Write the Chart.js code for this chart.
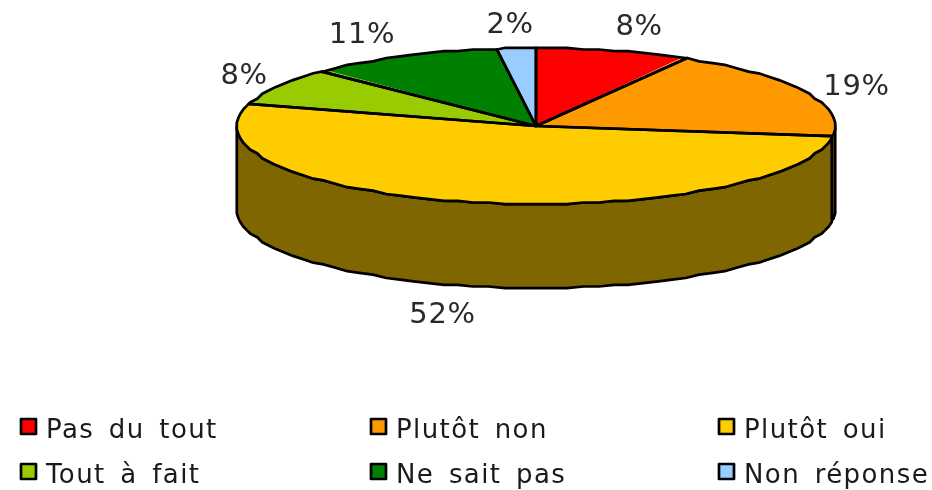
<!DOCTYPE html>
<html><head><meta charset="utf-8">
<style>html,body{margin:0;padding:0;background:#fff}canvas{display:block}</style>
<script src="https://cdn.jsdelivr.net/npm/chart.js@4"></script></head>
<body><canvas id="c" width="932" height="490"></canvas>
<script>
const categories = ["Pas du tout","Plutôt non","Plutôt oui","Tout à fait","Ne sait pas","Non réponse"];
const values = [8.4,18.8,52.4,7.7,10.6,2.1];
const colors = ["#FF0000","#FF9900","#FFCC00","#99CC00","#008000","#99CCFF"];
const sideColors = ["#800000","#804D00","#806600","#4D6600","#004000","#4D6680"];

const G = {cx:536, cy:126, rx:299.5, ry:78, depth:84, lw:2.7, snap:1.7, step:Math.PI/60};
const labelCenters = [[639,24.5],[856.5,84],[442.5,312.5],[244,73],[362,32],[510,22.5]];
const legendPos = {xs:[20,370,718], ys:[418,463], sw:17, textDx:26, baseDy:19.5};

// Outline of the low-resolution rim: ellipse sampled on a fixed angle grid, snapped to a fine grid,
// so the top rim and the wall's bottom rim share one shape.
function rimPoint(t,y0){
  const x=G.rx*Math.cos(t), y=G.ry*Math.sin(t), s=G.snap;
  return [G.cx+Math.round(x/s)*s, y0+Math.round(y/s)*s];
}
function rim(a0,a1,y0){
  const lo=Math.min(a0,a1), hi=Math.max(a0,a1), out=[rimPoint(lo,y0)];
  for(let k=Math.floor(lo/G.step)+1;k*G.step<hi;k++) out.push(rimPoint(k*G.step,y0));
  out.push(rimPoint(hi,y0));
  return a0<=a1?out:out.reverse();
}
function trace(ctx,pts,start){pts.forEach((p,i)=>{(i===0&&start)?ctx.moveTo(p[0],p[1]):ctx.lineTo(p[0],p[1]);});}

const pie3d = {
  id:'pie3d',
  beforeDatasetsDraw(chart){
    const ctx=chart.ctx, arcs=chart.getDatasetMeta(0).data;
    ctx.lineJoin='round'; ctx.lineWidth=G.lw; ctx.strokeStyle='#000';
    // visible wall: the part of every slice on the front half of the ellipse
    arcs.forEach((a,i)=>{
      const s=Math.max(a.startAngle,0), e=Math.min(a.endAngle,Math.PI);
      if(e<=s) return;
      ctx.beginPath();
      trace(ctx,rim(s,e,G.cy),true);
      trace(ctx,rim(e,s,G.cy+G.depth),false);
      ctx.closePath();
      ctx.fillStyle=sideColors[i]; ctx.fill(); ctx.stroke();
    });
    const a=arcs[0], R=a.outerRadius;
    ctx.save();
    ctx.beginPath(); trace(ctx,rim(0,2*Math.PI,G.cy),true); ctx.closePath(); ctx.clip();
    ctx.translate(G.cx,G.cy); ctx.scale((G.rx+5)/R,(G.ry+5)/R); ctx.translate(-a.x,-a.y);
  },
  afterDatasetsDraw(chart){
    const ctx=chart.ctx, arcs=chart.getDatasetMeta(0).data;
    ctx.restore();
    ctx.lineJoin='round'; ctx.lineWidth=G.lw; ctx.strokeStyle='#000';
    arcs.forEach(a=>{
      ctx.beginPath(); ctx.moveTo(G.cx,G.cy);
      trace(ctx,rim(a.startAngle,a.endAngle,G.cy),false);
      ctx.closePath(); ctx.stroke();
    });
    // percentage labels
    ctx.fillStyle='#2a2a2a'; ctx.textAlign='center'; ctx.textBaseline='alphabetic';
    ctx.font='29px "DejaVu Sans"'; ctx.letterSpacing='0.6px';
    values.forEach((v,i)=>ctx.fillText(Math.round(v)+'%',labelCenters[i][0],labelCenters[i][1]+10.5));
    // legend
    ctx.textAlign='left';
    ctx.font='26px "DejaVu Sans"'; ctx.letterSpacing='1.4px'; ctx.wordSpacing='5px';
    categories.forEach((c,i)=>{
      const x=legendPos.xs[i%3], y=legendPos.ys[Math.floor(i/3)];
      ctx.fillStyle=colors[i]; ctx.fillRect(x+1,y+1,legendPos.sw-2,legendPos.sw-2);
      ctx.lineWidth=2.7; ctx.strokeRect(x+1,y+1,legendPos.sw-2,legendPos.sw-2);
      ctx.fillStyle='#1a1a1a';
      ctx.fillText(c,x+legendPos.textDx,y+legendPos.baseDy);
    });
    ctx.letterSpacing='0px'; ctx.wordSpacing='0px';
  }
};
new Chart(document.getElementById('c'),{
  type:'pie',
  data:{labels:categories,datasets:[{data:values,backgroundColor:colors,borderWidth:0,clip:false}]},
  options:{responsive:false,animation:false,
    plugins:{legend:{display:false},tooltip:{enabled:false}}},
  plugins:[pie3d]
});
</script></body></html>
